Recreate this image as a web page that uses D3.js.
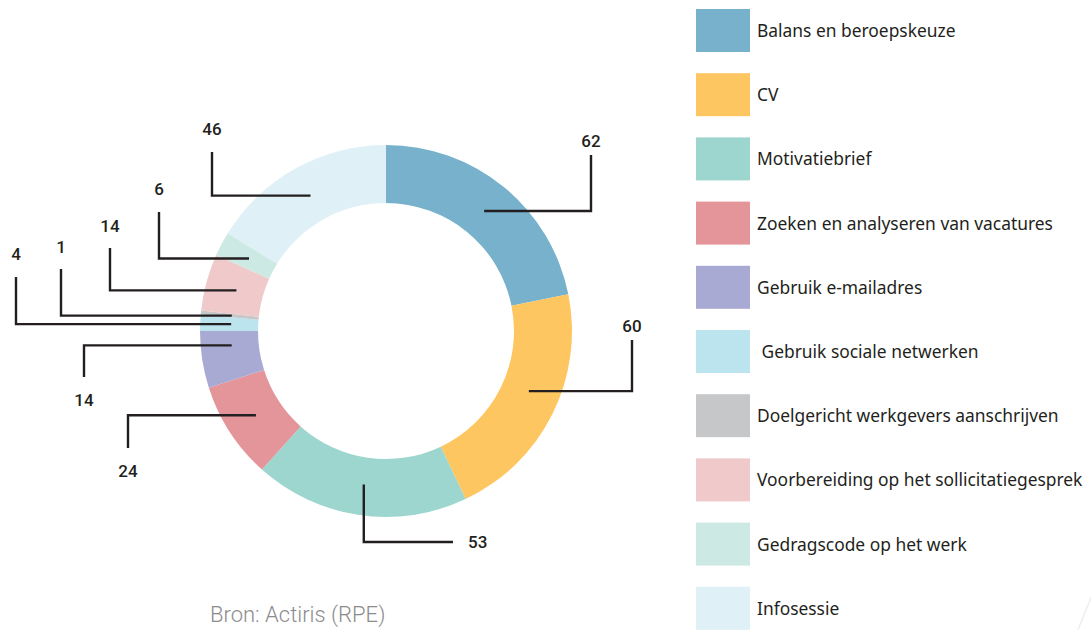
<!DOCTYPE html>
<html>
<head>
<meta charset="utf-8">
<script src="https://cdn.jsdelivr.net/npm/d3@7"></script>
<style>
  body { margin: 0; background: #fff; }
  svg { display: block; }
</style>
</head>
<body>
<div id="chart"></div>
<script>
const svgWidth = 1091;
const svgHeight = 630;

// data
const categories = [
  "Balans en beroepskeuze",
  "CV",
  "Motivatiebrief",
  "Zoeken en analyseren van vacatures",
  "Gebruik e-mailadres",
  " Gebruik sociale netwerken",
  "Doelgericht werkgevers aanschrijven",
  "Voorbereiding op het sollicitatiegesprek",
  "Gedragscode op het werk",
  "Infosessie"
];
const values = [62, 60, 53, 24, 14, 4, 1, 14, 6, 46];
const colors = ["#77b1cb", "#fec660", "#9dd6ce", "#e39599", "#a9aad3",
                "#bce4ee", "#c6c7c9", "#f0c9ca", "#cde9e3", "#dff0f6"];
const source = "Bron: Actiris (RPE)";

// leader layout: dir h = horizontal first, v = vertical first
const leaders = [
  { dir: "h", x: 591, y: 155, ty: 147 },
  { dir: "h", x: 632, y: 340, ty: 332, frac: 0.45 },
  { dir: "v", x: 453, y: 542, tx: 468 },
  { dir: "h", x: 128, y: 448, ty: 477 },
  { dir: "h", x: 84, y: 377, ty: 406, frac: 0.7 },
  { dir: "h", x: 16, y: 277, ty: 260 },
  { dir: "h", x: 61, y: 269, ty: 253 },
  { dir: "h", x: 110, y: 248, ty: 232 },
  { dir: "h", x: 159, y: 212, ty: 195 },
  { dir: "h", x: 212, y: 152, ty: 135 }
];

const cx = 386, cy = 331;
const outerR = 186, innerR = 128, midR = 155;

let svg = d3.select("#chart").append("svg").attr("width", svgWidth).attr("height", svgHeight);

let rows = values.map((v, i) => ({ name: categories[i], value: v, color: colors[i] }));
let pie = d3.pie().value(d => d.value).sort(null);
let arcs = pie(rows);
let arc = d3.arc().innerRadius(innerR).outerRadius(outerR);

let donut = svg.append("g").attr("transform", `translate(${cx}, ${cy})`);
donut.selectAll("path")
  .data(arcs)
  .enter()
  .append("path")
  .attr("d", arc)
  .attr("fill", d => d.data.color);

// leader lines + value labels
let lblgrp = svg.append("g");
arcs.forEach((a, i) => {
  let l = leaders[i];
  let f = l.frac == null ? 0.5 : l.frac;
  let ang = a.startAngle + (a.endAngle - a.startAngle) * f;
  let sx = cx + midR * Math.sin(ang);
  let sy = cy - midR * Math.cos(ang);
  let pts;
  if (l.dir == "h") pts = [[sx, sy], [l.x, sy], [l.x, l.y]];
  else pts = [[sx, sy], [sx, l.y], [l.x, l.y]];
  lblgrp.append("path")
    .attr("d", d3.line()(pts))
    .attr("fill", "none")
    .attr("stroke", "#231f20")
    .attr("stroke-width", 2.4);
  let t = lblgrp.append("text")
    .attr("font-family", "Roboto, sans-serif")
    .attr("font-weight", 500)
    .attr("font-size", 17)
    .attr("fill", "#231f20")
    .text(a.data.value);
  if (l.dir == "h") t.attr("x", l.x).attr("y", l.ty).attr("text-anchor", "middle");
  else t.attr("x", l.tx).attr("y", l.y).attr("dy", "0.35em");
});

// legend
let legend = svg.append("g").attr("transform", "translate(696, 9)");
let items = legend.selectAll("g")
  .data(rows)
  .enter()
  .append("g")
  .attr("transform", (d, i) => `translate(0, ${i * 64.2})`);
items.append("rect")
  .attr("width", 54)
  .attr("height", 43)
  .attr("fill", d => d.color);
items.append("text")
  .attr("x", 61)
  .attr("y", 22)
  .attr("dy", "0.35em")
  .attr("font-family", "'Noto Sans', sans-serif")
  .attr("font-size", 17.4)
  .attr("fill", "#231f20")
  .attr("xml:space", "preserve")
  .style("white-space", "pre")
  .text(d => d.name);

// source
svg.append("text")
  .attr("x", 210)
  .attr("y", 622)
  .attr("font-family", "Roboto, sans-serif")
  .attr("font-weight", 300)
  .attr("font-size", 22)
  .attr("fill", "#8c8c8c")
  .text(source);

// faint decorative stroke bottom right
svg.append("line")
  .attr("x1", 1095).attr("y1", 588)
  .attr("x2", 1077).attr("y2", 632)
  .attr("stroke", "#eeeeee")
  .attr("stroke-width", 1.5);
</script>
</body>
</html>
